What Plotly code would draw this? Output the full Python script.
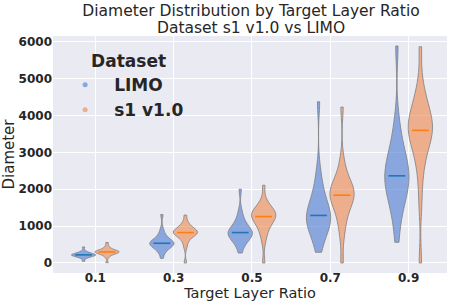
import numpy as np
import plotly.graph_objects as go

ratios = ["0.1", "0.3", "0.5", "0.7", "0.9"]
datasets = ["LIMO", "s1 v1.0"]

limo_samples = [
    [45, 120, 150, 165, 178, 188, 196, 203, 209, 214, 220, 226, 232, 239, 247, 256, 266, 280, 300, 340, 435],
    [125, 280, 340, 385, 420, 450, 475, 495, 512, 525, 535, 550, 565, 585, 610, 640, 680, 730, 800, 920, 1315],
    [270, 450, 540, 600, 650, 690, 725, 755, 780, 805, 825, 850, 880, 910, 950, 1000, 1060, 1140, 1250, 1420, 2000],
    [290, 560, 720, 830, 920, 1000, 1070, 1130, 1190, 1240, 1290, 1350, 1420, 1500, 1590, 1700, 1830, 1990, 2200, 2550, 4375],
    [560, 1100, 1400, 1600, 1770, 1900, 2010, 2110, 2200, 2290, 2365, 2450, 2540, 2640, 2750, 2880, 3030, 3220, 3480, 3900, 5890],
]
s1_samples = [
    [10, 150, 200, 225, 245, 260, 272, 282, 290, 296, 300, 306, 313, 322, 332, 345, 360, 380, 410, 460, 555],
    [0, 420, 560, 640, 690, 730, 760, 785, 805, 818, 825, 840, 855, 875, 895, 920, 950, 990, 1040, 1120, 1300],
    [0, 560, 760, 880, 970, 1050, 1110, 1160, 1200, 1235, 1260, 1290, 1320, 1350, 1380, 1410, 1450, 1500, 1570, 1700, 2110],
    [0, 700, 1000, 1200, 1370, 1500, 1600, 1680, 1750, 1800, 1840, 1890, 1940, 1990, 2050, 2120, 2200, 2320, 2500, 2800, 4230],
    [0, 1600, 2300, 2700, 2950, 3150, 3300, 3420, 3510, 3560, 3600, 3680, 3770, 3860, 3950, 4060, 4180, 4330, 4530, 4850, 5870],
]
y_ticks = [0, 1000, 2000, 3000, 4000, 5000, 6000]

fills = ["rgba(72,120,208,0.6)", "rgba(238,133,74,0.6)"]
median_colors = ["#1f77b4", "#ff7f0e"]
offsets = [-0.15, 0.15]
FONT = "DejaVu Sans"
W, H = 453, 305
ML, MR, MT, MB = 53, 6, 36, 32
PW, PH = W - ML - MR, H - MT - MB

fig = go.Figure()
for d, (name, samples) in enumerate(zip(datasets, [limo_samples, s1_samples])):
    for i, vals in enumerate(samples):
        fig.add_trace(go.Violin(
            x=[i + offsets[d]] * len(vals), y=vals,
            width=0.31, spanmode="hard", scalemode="width",
            fillcolor=fills[d], line=dict(color="#7f7f7f", width=0.8),
            points=False, box_visible=False, meanline_visible=False,
            showlegend=False, hoverinfo="skip", name=name,
        ))
    fig.add_trace(go.Scatter(
        x=[i + offsets[d] for i in range(len(ratios))],
        y=[float(np.median(v)) for v in samples],
        mode="markers",
        marker=dict(symbol="line-ew", size=12, line=dict(color=median_colors[d], width=1.6)),
        showlegend=False, hoverinfo="skip",
    ))
    fig.add_trace(go.Scatter(
        x=[None], y=[None], mode="markers", name=name,
        marker=dict(size=5, color=fills[d]),
    ))

fig.update_layout(
    width=W, height=H,
    margin=dict(l=ML, r=MR, t=MT, b=MB, autoexpand=False),
    paper_bgcolor="white", plot_bgcolor="#eaeaf2",
    violinmode="overlay",
    font=dict(family=FONT, color="#262626"),
    title=dict(
        text="Diameter Distribution by Target Layer Ratio",
        x=251 / W, xanchor="center", xref="container",
        y=1 - 10.5 / H, yanchor="middle", yref="container",
        font=dict(size=15.5, family=FONT, color="#262626"),
    ),
    annotations=[dict(
        text="Dataset s1 v1.0 vs LIMO", showarrow=False,
        x=(251 - ML) / PW, xref="paper", xanchor="center",
        y=1 + (MT - 27.5) / PH, yref="paper", yanchor="middle",
        font=dict(size=15.5, family=FONT, color="#262626"),
    )],
    legend=dict(
        x=0.008, y=0.962, xanchor="left", yanchor="top",
        bgcolor="rgba(0,0,0,0)",
        title=dict(text="&nbsp;&nbsp;<b>Dataset</b>", font=dict(size=17), side="top center"),
        font=dict(size=17, family=FONT, weight="bold"),
        itemsizing="trace", itemwidth=48,
    ),
)
fig.update_xaxes(
    tickmode="array", tickvals=list(range(len(ratios))),
    ticktext=ratios,
    range=[-0.54, 4.49], showgrid=True, gridcolor="white", gridwidth=1,
    zeroline=False, tickfont=dict(size=12, weight="bold"),
    ticklabelstandoff=-4,
    title=dict(text="Target Layer Ratio", font=dict(size=14.5), standoff=2),
    ticks="", showline=False, automargin=False,
)
fig.update_yaxes(
    tickmode="array", tickvals=y_ticks,
    ticktext=[str(v) for v in y_ticks],
    range=[-272, 6160], showgrid=True, gridcolor="white", gridwidth=1,
    zeroline=False, tickfont=dict(size=12, weight="bold"),
    title=dict(text="Diameter", font=dict(size=15), standoff=3),
    ticks="", showline=False, automargin=False,
)
fig.write_html(
    "out.html",
    config={"displayModeBar": False},
    post_script="document.body.style.margin='0';",
)
